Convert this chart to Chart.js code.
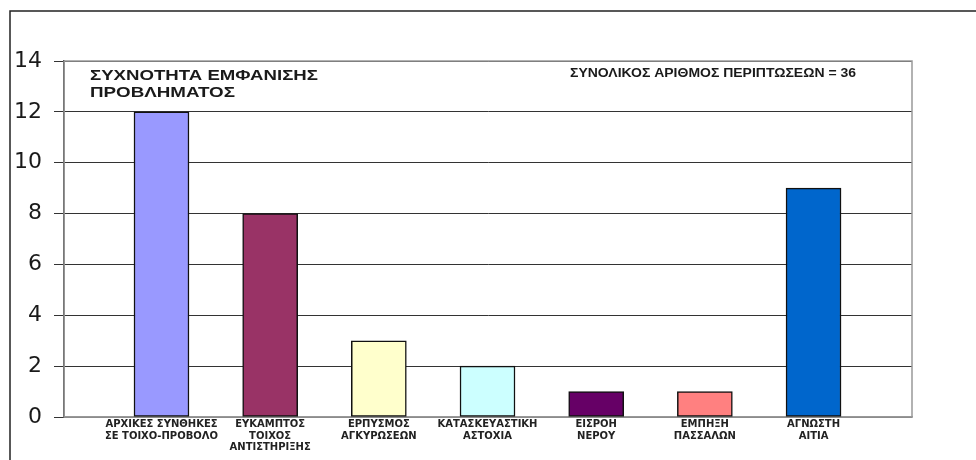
<!DOCTYPE html>
<html>
<head>
<meta charset="utf-8">
<script src="https://cdn.jsdelivr.net/npm/chart.js@4"></script>
<style>
  html, body { margin: 0; padding: 0; background: #fff; }
  #wrap { width: 976px; height: 460px; }
</style>
</head>
<body>
<div id="wrap"><canvas id="chart" width="976" height="460"></canvas></div>
<script>
// Categories (x labels, split into lines)
const categories = [
    ['ΑΡΧΙΚΕΣ ΣΥΝΘΗΚΕΣ', 'ΣΕ ΤΟΙΧΟ-ΠΡΟΒΟΛΟ'],
    ['ΕΥΚΑΜΠΤΟΣ', 'ΤΟΙΧΟΣ', 'ΑΝΤΙΣΤΗΡΙΞΗΣ'],
    ['ΕΡΠΥΣΜΟΣ', 'ΑΓΚΥΡΩΣΕΩΝ'],
    ['ΚΑΤΑΣΚΕΥΑΣΤΙΚΗ', 'ΑΣΤΟΧΙΑ'],
    ['ΕΙΣΡΟΗ', 'ΝΕΡΟΥ'],
    ['ΕΜΠΗΞΗ', 'ΠΑΣΣΑΛΩΝ'],
    ['ΑΓΝΩΣΤΗ', 'ΑΙΤΙΑ']
];

// Number of cases per category
const counts = [12, 8, 3, 2, 1, 1, 9];

// Bar fill colours
const barColors = ['#9999FF', '#993366', '#FFFFCC', '#CCFFFF', '#660066', '#FF8080', '#0066CC'];

// Y axis ticks
const yTicks = [0, 2, 4, 6, 8, 10, 12, 14];

const titleLines = ['ΣΥΧΝΟΤΗΤΑ ΕΜΦΑΝΙΣΗΣ', 'ΠΡΟΒΛΗΜΑΤΟΣ'];
const totalNote = 'ΣΥΝΟΛΙΚΟΣ ΑΡΙΘΜΟΣ ΠΕΡΙΠΤΩΣΕΩΝ = 36';

const FONT = "'Liberation Sans', Arial, sans-serif";
const WIDE = "'DejaVu Sans', 'Liberation Sans', sans-serif";

// draw text squeezed/stretched horizontally to a given width
function wideText(ctx, text, x, y, width) {
    const w = ctx.measureText(text).width;
    ctx.save();
    ctx.translate(x, y);
    ctx.scale(width / w, 1);
    ctx.fillText(text, 0, 0);
    ctx.restore();
}

// Frame, plot border and text boxes
const decorPlugin = {
    id: 'decor',
    beforeDatasetsDraw(chart) {
        const { ctx, chartArea: a } = chart;
        ctx.save();
        ctx.strokeStyle = '#999';
        ctx.lineWidth = 1.5;
        ctx.strokeRect(a.left, a.top, a.right - a.left, a.bottom - a.top);
        ctx.restore();
    },
    afterDraw(chart) {
        const { ctx } = chart;
        ctx.save();
        // outer frame (top and left edges visible)
        ctx.strokeStyle = '#222';
        ctx.lineWidth = 1.5;
        ctx.beginPath();
        ctx.moveTo(10, 470);
        ctx.lineTo(10, 11);
        ctx.lineTo(990, 11);
        ctx.stroke();

        ctx.fillStyle = '#1a1a1a';
        ctx.textAlign = 'left';
        ctx.textBaseline = 'alphabetic';
        ctx.font = 'bold 14px ' + FONT;
        wideText(ctx, titleLines[0], 90, 80, 228);
        wideText(ctx, titleLines[1], 90, 97, 145);

        ctx.font = 'bold 12px ' + FONT;
        wideText(ctx, totalNote, 570, 77, 286);
        ctx.restore();
    }
};

new Chart(document.getElementById('chart'), {
    type: 'bar',
    data: {
        datasets: [{
            data: counts.map((v, i) => ({ x: i, y: v })),
            backgroundColor: barColors,
            borderColor: '#111',
            borderWidth: 1.5,
            barThickness: 55,
            borderSkipped: false
        }]
    },
    options: {
        responsive: false,
        animation: false,
        layout: { padding: { top: 61, right: 64, left: 0, bottom: 0 } },
        plugins: {
            legend: { display: false },
            tooltip: { enabled: false }
        },
        scales: {
            x: {
                type: 'linear',
                min: -0.897,
                max: 6.906,
                offset: false,
                afterBuildTicks: scale => {
                    scale.ticks = categories.map((c, i) => ({ value: i }));
                },
                afterFit: scale => { scale.height = 43; },
                grid: { display: false, drawTicks: false, offset: false },
                border: { color: '#999', width: 1.5 },
                ticks: {
                    autoSkip: false,
                    maxRotation: 0,
                    padding: 2,
                    color: '#222',
                    font: { family: WIDE, size: 10, weight: 'bold', lineHeight: 1.15 },
                    callback: value => categories[value]
                }
            },
            y: {
                min: 0,
                max: 14,
                afterBuildTicks: scale => {
                    scale.ticks = yTicks.map(v => ({ value: v }));
                },
                afterFit: scale => { scale.width = 64; },
                grid: { color: '#333', lineWidth: 1, tickLength: 10 },
                border: { color: '#111', width: 1.5 },
                ticks: {
                    padding: 12,
                    color: '#1a1a1a',
                    font: { family: WIDE, size: 22 }
                }
            }
        }
    },
    plugins: [decorPlugin]
});
</script>
</body>
</html>
